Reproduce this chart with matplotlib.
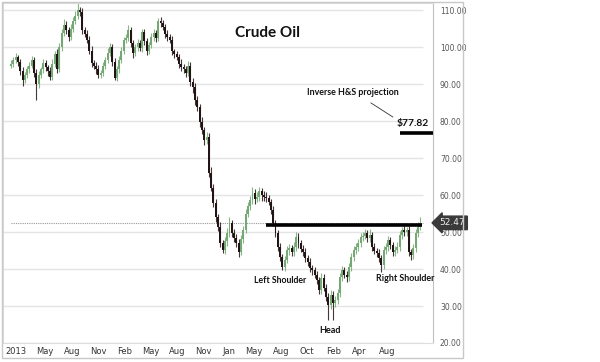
import matplotlib
matplotlib.use("Agg")
import matplotlib.pyplot as plt
from matplotlib.patches import Rectangle
from matplotlib.transforms import blended_transform_factory

# weekly closes (Jan 2013 .. mid 2016)
closes = [
    95.5, 96.5, 97.3, 96.0, 93.5, 91.0, 92.5, 94.0, 95.0, 96.5,
    93.0, 90.0, 92.5, 94.0, 95.7, 94.5, 93.5, 92.0, 95.5, 98.0,
    94.0, 100.0, 103.8, 106.0, 104.6, 102.7, 105.0, 107.0, 108.5, 110.0,
    109.5, 104.6, 103.5, 102.0, 99.0, 95.7, 95.0, 94.0, 92.5, 93.0,
    95.0, 96.5, 98.5, 100.0, 96.0, 91.6, 94.0, 96.5, 99.0, 101.9,
    102.5, 104.6, 101.0, 98.3, 100.0, 101.0, 99.7, 104.0, 101.5, 99.0,
    100.5, 102.7, 103.8, 102.4, 107.0, 106.5, 105.4, 103.5, 102.7, 102.0,
    98.8, 98.0, 97.3, 95.5, 94.6, 94.0, 93.0, 95.0, 90.5, 89.2,
    85.7, 83.8, 79.7, 77.5, 74.9, 75.7, 66.0, 62.0, 57.8, 54.0,
    51.4, 47.0, 45.1, 47.5, 49.7, 52.4, 49.7, 48.5, 47.0, 44.6,
    48.0, 50.5, 55.0, 57.0, 58.6, 60.5, 59.0, 59.5, 61.0, 60.0,
    59.5, 59.2, 58.0, 56.0, 52.4, 49.7, 46.0, 43.2, 40.5, 42.5,
    45.1, 45.7, 44.6, 46.0, 48.6, 47.0, 45.5, 44.6, 43.0, 41.9,
    40.2, 39.7, 38.5, 37.0, 34.3, 37.6, 35.0, 32.4, 30.3, 33.0,
    30.8, 31.5, 33.5, 37.8, 39.7, 38.5, 37.8, 40.5, 43.2, 45.1,
    46.0, 47.0, 48.6, 49.0, 49.7, 48.4, 49.2, 46.0, 45.0, 44.3,
    43.0, 41.0, 45.1, 46.0, 47.8, 46.5, 44.6, 45.2, 46.0, 49.2,
    50.5, 50.0, 50.5, 44.6, 43.8, 45.7, 49.7, 51.4, 52.47,
]
first_open = 95.0

# wick length above / below the body
ups = [
    1.0, 0.8, 1.2, 0.6, 0.8, 1.0, 0.7, 0.9, 1.0, 1.2,
    0.8, 1.0, 0.9, 0.7, 1.0, 0.8, 0.6, 1.0, 1.2, 1.0,
    1.4, 1.2, 1.0, 1.5, 1.0, 0.8, 1.2, 1.0, 1.3, 1.9,
    0.8, 1.0, 0.8, 1.0, 0.9, 1.2, 0.8, 1.0, 1.1, 0.9,
    1.0, 0.8, 1.2, 1.0, 0.9, 1.0, 0.8, 1.0, 1.1, 0.9,
    1.0, 1.3, 0.8, 1.0, 0.9, 1.2, 0.8, 1.0, 0.8, 1.0,
    0.9, 1.0, 1.2, 0.8, 0.8, 1.0, 0.9, 0.8, 1.0, 0.7,
    1.0, 0.8, 1.0, 0.9, 1.2, 0.8, 1.0, 1.2, 0.9, 1.0,
    1.2, 1.0, 0.8, 1.5, 1.0, 1.2, 1.0, 1.5, 1.0, 1.2,
    1.0, 1.4, 0.8, 1.2, 1.5, 1.6, 0.8, 1.0, 0.9, 1.0,
    1.2, 1.0, 1.3, 1.0, 1.2, 1.7, 1.0, 1.2, 1.2, 1.0,
    1.0, 1.2, 0.8, 0.8, 1.0, 0.9, 0.8, 1.0, 0.9, 1.0,
    1.2, 1.0, 0.9, 1.4, 1.3, 1.0, 0.8, 0.9, 1.0, 0.8,
    1.0, 0.8, 0.9, 1.0, 0.8, 1.2, 1.0, 0.9, 1.0, 1.2,
    1.0, 1.3, 1.0, 1.2, 1.0, 0.8, 1.0, 1.2, 1.0, 1.2,
    0.9, 1.0, 1.2, 1.0, 1.0, 0.8, 1.5, 0.8, 0.9, 0.8,
    1.0, 0.9, 1.2, 0.9, 1.0, 0.8, 0.9, 1.0, 1.2, 1.0,
    0.9, 1.0, 0.9, 1.0, 0.8, 1.0, 1.0, 1.2, 1.5,
]
dns = [
    0.8, 1.0, 0.9, 1.2, 1.0, 1.4, 0.8, 1.0, 0.9, 0.8,
    1.0, 4.3, 1.0, 0.8, 0.9, 1.0, 1.2, 1.0, 0.8, 1.0,
    1.0, 0.8, 1.0, 0.9, 1.2, 1.0, 0.8, 1.0, 0.9, 1.0,
    1.0, 1.0, 0.8, 0.9, 1.0, 1.2, 1.0, 1.3, 0.8, 1.0,
    0.9, 1.0, 0.8, 1.0, 1.2, 0.6, 0.8, 1.0, 0.9, 1.0,
    0.8, 1.0, 1.0, 1.2, 0.8, 1.0, 0.9, 1.0, 1.0, 1.2,
    1.0, 0.8, 1.0, 1.0, 0.9, 1.0, 0.8, 1.0, 1.0, 0.9,
    1.0, 1.0, 0.9, 1.2, 1.0, 1.0, 1.2, 0.8, 1.0, 1.5,
    1.4, 1.0, 1.2, 1.0, 1.5, 1.0, 1.2, 1.0, 1.0, 1.2,
    1.2, 1.0, 0.8, 1.0, 1.2, 1.0, 1.0, 1.2, 1.0, 1.4,
    0.9, 1.0, 0.9, 1.0, 1.0, 0.9, 1.5, 1.0, 1.2, 1.6,
    1.0, 1.2, 0.8, 1.0, 0.9, 1.0, 1.0, 1.0, 0.8, 1.0,
    1.0, 1.2, 1.0, 1.0, 1.0, 1.2, 1.0, 1.0, 1.0, 1.0,
    1.0, 1.2, 1.0, 1.0, 1.0, 1.0, 1.0, 1.0, 4.1, 1.0,
    4.6, 1.2, 1.0, 1.0, 1.0, 1.0, 1.2, 1.0, 1.0, 1.0,
    1.0, 1.0, 1.0, 1.0, 1.0, 1.0, 1.0, 1.0, 1.0, 1.0,
    1.0, 1.8, 1.0, 1.0, 1.0, 1.0, 1.2, 1.0, 1.0, 1.0,
    1.0, 1.0, 1.0, 1.0, 1.4, 1.0, 1.0, 1.0, 0.8,
]

tick_labels = ["2013", "May", "Aug", "Nov", "Feb", "May", "Aug", "Nov",
               "Jan", "May", "Aug", "Oct", "Feb", "Apr", "Aug"]
tick_pos = [2.2, 14.8, 26.5, 37.8, 49.6, 60.9, 72.2, 83.5, 94.8, 105.7,
            117.4, 128.7, 140.4, 151.3, 163.5]
y_ticks = [20, 30, 40, 50, 60, 70, 80, 90, 100, 110]

neckline = 51.9
projection = 76.8
last_price = closes[-1]

GREEN = "#74a874"
DARK = "#221414"

fig = plt.figure(figsize=(6.0, 3.62), dpi=100)
ax = fig.add_axes([3 / 600, 1 - 343 / 362, 430 / 600, 340 / 362])

# outer frame around the chart widget
fig.patches.append(Rectangle((2 / 600, 1 - 358 / 362), 461 / 600, 356 / 362,
                             transform=fig.transFigure, fill=False,
                             edgecolor="#c8c8c8", lw=1.0))

x_left, x_right = -3.5, 183.5
grid_end = 179.1
ax.set_xlim(x_left, x_right)
ax.set_ylim(20, 111.9)

for yv in y_ticks:
    ax.hlines(yv, x_left, grid_end, color="#e4e4e4", lw=1.0, zorder=0)

# last price dotted line
ax.hlines(last_price, 0, grid_end, color="#999999", lw=0.8,
          linestyles=(0, (1, 1)), zorder=1)

# candles
opens = [first_open] + closes[:-1]
for i, (o, c) in enumerate(zip(opens, closes)):
    col = GREEN if c >= o else DARK
    hi = max(o, c) + ups[i]
    lo = min(o, c) - dns[i]
    ax.vlines(i, lo, hi, color=col, lw=0.8, zorder=2, alpha=0.85)
    ax.bar(i, abs(c - o) if abs(c - o) > 0.3 else 0.3, bottom=min(o, c),
           width=0.85, color=col, zorder=3, linewidth=0)

# neckline and projection
ax.hlines(neckline, 111, 178.5, color="black", lw=2.6, zorder=4)
ax.hlines(projection, 169, x_right, color="black", lw=2.6, zorder=4, clip_on=False)
ax.plot([156.5, 166], [84.9, 81.1], color="#333333", lw=0.6, zorder=4)

bold = dict(family="Lato", fontweight="bold", color="#111111")
ax.text(111.7, 103.8, "Crude Oil", fontsize=11, ha="center", va="center", **bold)
ax.text(148.7, 87.6, "Inverse H&S projection", fontsize=6.4, ha="center", va="center", **bold)
ax.text(174.8, 79.3, "$77.82", fontsize=7.4, ha="center", va="center", **bold)
ax.text(117, 36.8, "Left Shoulder", fontsize=6.3, ha="center", va="center", **bold)
ax.text(138.7, 23.5, "Head", fontsize=6.5, ha="center", va="center", **bold)
ax.text(171.3, 37.3, "Right Shoulder", fontsize=6.4, ha="center", va="center", **bold)

# axes styling
for side in ["left", "top", "bottom"]:
    ax.spines[side].set_color("#dddddd")
    ax.spines[side].set_linewidth(0.8)
ax.spines["right"].set_color("#c0c0c0")
ax.spines["right"].set_linewidth(0.8)

ax.yaxis.tick_right()
ax.set_yticks(y_ticks)
ax.set_yticklabels(["%.2f" % v for v in y_ticks], fontsize=5.5, color="#555555")
ax.tick_params(axis="y", length=0, pad=5)
ax.set_xticks(tick_pos)
ax.set_xticklabels(tick_labels, fontsize=6, color="#333333")
ax.tick_params(axis="x", length=0, pad=3)

# last price flag on the axis
tr = blended_transform_factory(ax.transAxes, ax.transData)
ax.text(1.015, last_price, "52.47", transform=tr, fontsize=6.5, color="#eeeeee",
        ha="left", va="center", clip_on=False, zorder=6,
        bbox=dict(boxstyle="larrow,pad=0.25", fc="#3a3a3a", ec="#3a3a3a"))

fig.savefig("out.png", dpi=100)
